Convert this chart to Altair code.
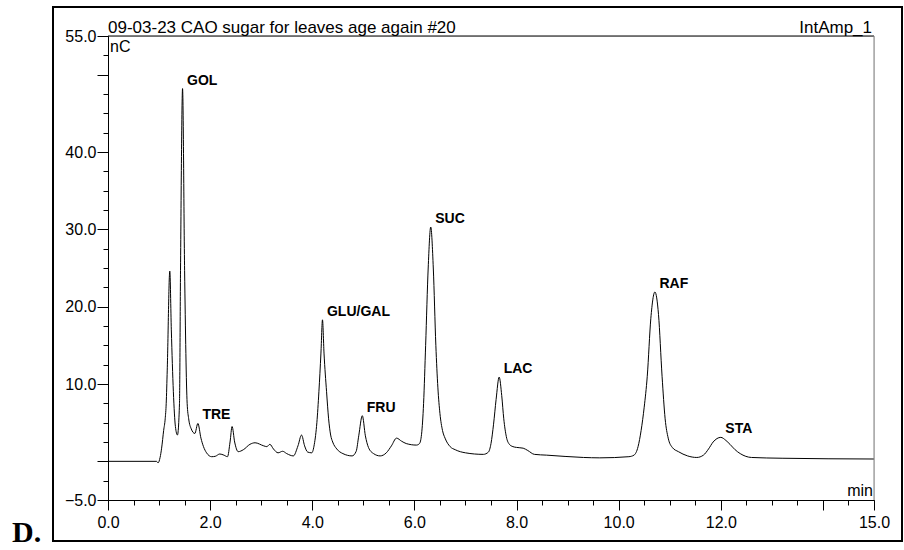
import altair as alt
import pandas as pd

# ---- data (time in min, signal in nC) ----
time = [0.00, 0.95, 0.98, 1.02, 1.05, 1.09, 1.12, 1.14, 1.16, 1.21, 1.24, 1.28, 1.32, 1.36,
        1.40, 1.42, 1.46, 1.50, 1.55, 1.58, 1.63, 1.70, 1.76, 1.82, 1.87, 1.93,
        2.03, 2.10, 2.19, 2.27, 2.34, 2.39, 2.43, 2.48, 2.55, 2.65, 2.78, 2.88, 3.05, 3.11,
        3.17, 3.24, 3.33, 3.42, 3.50, 3.63, 3.72, 3.79, 3.85, 3.91, 3.99,
        4.04, 4.09, 4.13, 4.17, 4.20, 4.23, 4.28, 4.32, 4.36, 4.40, 4.48, 4.60, 4.78,
        4.86, 4.91, 4.98, 5.04, 5.10, 5.20, 5.33, 5.45, 5.55, 5.65, 5.75, 5.84, 6.04,
        6.10, 6.14, 6.18, 6.22, 6.27, 6.32, 6.37, 6.42, 6.46, 6.50, 6.55, 6.60, 6.70, 6.80,
        7.00, 7.35, 7.45, 7.50, 7.55, 7.60, 7.66, 7.71, 7.75, 7.80, 7.86, 7.93, 8.00, 8.13,
        8.22, 8.35, 8.59, 9.31, 9.63, 10.20, 10.30, 10.38, 10.44, 10.50, 10.56, 10.63,
        10.71, 10.78, 10.85, 10.91, 10.97, 11.05, 11.17, 11.35, 11.53, 11.66, 11.76,
        11.85, 12.00, 12.10, 12.18, 12.28, 12.38, 12.60, 13.20, 15.00]
signal = [0.0, 0.0, -0.2, 0.5, 1.7, 4.0, 5.5, 7.5, 11.8, 24.6, 17.0, 9.0, 4.5, 3.4,
          7.5, 24.7, 48.2, 24.7, 7.5, 5.5, 4.2, 3.6, 4.9, 3.0, 1.9, 1.1,
          0.6, 0.65, 0.95, 0.8, 0.6, 2.5, 4.5, 2.5, 1.25, 1.5, 2.2, 2.4, 2.0, 1.9,
          2.2, 1.6, 1.1, 1.3, 1.0, 0.7, 2.0, 3.4, 2.0, 1.2, 1.1,
          2.2, 5.0, 9.0, 14.0, 18.3, 14.0, 9.0, 5.5, 3.4, 2.5, 1.6, 1.0, 0.7,
          1.3, 3.3, 5.9, 3.3, 1.8, 1.0, 0.7, 1.1, 2.0, 3.0, 2.6, 2.3, 2.1,
          2.3, 3.5, 7.5, 15.0, 25.0, 30.3, 25.0, 15.0, 9.5, 6.2, 4.0, 3.0, 1.9, 1.5,
          1.1, 0.9, 1.2, 2.3, 4.8, 8.0, 10.9, 8.5, 5.5, 3.2, 2.2, 1.9, 1.8, 1.7,
          1.4, 0.9, 0.8, 0.5, 0.45, 0.6, 0.8, 1.9, 4.0, 7.0, 11.0, 18.5,
          21.9, 19.0, 11.0, 5.5, 3.0, 1.8, 1.25, 0.7, 0.5, 0.8, 1.6,
          2.5, 3.1, 2.7, 2.2, 1.5, 1.0, 0.5, 0.4, 0.3]

peak_names = ["GOL", "TRE", "GLU/GAL", "FRU", "SUC", "LAC", "RAF", "STA"]
peak_times = [1.46, 1.76, 4.20, 4.98, 6.32, 7.66, 10.71, 12.00]
peak_heights = [48.2, 4.9, 18.3, 5.9, 30.3, 10.9, 21.9, 3.1]

x_minor = [i * 0.5 for i in range(31)]
x_major = [0, 2, 4, 6, 8, 10, 12, 14, 15]
x_labels = [0, 2, 4, 6, 8, 10, 12, 15]
y_minor = [-5 + i * 2.5 for i in range(25)]
y_major = [-5, 0, 10, 20, 30, 40, 50, 55]
y_labels = [-5, 10, 20, 30, 40, 55]

title_text = "09-03-23 CAO sugar for leaves age again #20"
right_title = "IntAmp_1"
y_unit = "nC"
x_unit = "min"
panel_tag = "D."

trace_df = pd.DataFrame({"time": time, "signal": signal})
peaks_df = pd.DataFrame({"name": peak_names, "time": peak_times, "height": peak_heights})
one = pd.DataFrame({"a": [0]})

W, H = 766, 464
FONT = "Liberation Sans"

xs = alt.Scale(domain=[0, 15], nice=False, zero=False)
ys = alt.Scale(domain=[-5, 55], nice=False, zero=False)

x_minor_axis = alt.Axis(orient="bottom", values=x_minor, tickSize=5, labels=False, title=None,
                        grid=False, domainColor="black", tickColor="black", domainWidth=1)
y_minor_axis = alt.Axis(orient="left", values=y_minor, tickSize=5, labels=False, title=None,
                        grid=False, domainColor="black", tickColor="black", domainWidth=1)

x_lab_expr = "indexof(%s, datum.value) >= 0 ? format(datum.value, '.1f') : ''" % str(x_labels)
y_lab_expr = "indexof(%s, datum.value) >= 0 ? format(datum.value, '.1f') : ''" % str(y_labels)

x_major_axis = alt.Axis(orient="bottom", values=x_major, tickSize=10, labelExpr=x_lab_expr,
                        labelFont=FONT, labelFontSize=16, labelColor="black", labelPadding=4,
                        labelOverlap=False, labelFlush=False, title=None, grid=False,
                        domain=False, tickColor="black")
y_major_axis = alt.Axis(orient="left", values=y_major, tickSize=11, labelExpr=y_lab_expr,
                        labelFont=FONT, labelFontSize=16, labelColor="black", labelPadding=1,
                        labelOverlap=False, labelFlush=False, title=None, grid=False,
                        domain=False, tickColor="black")

trace = alt.Chart(trace_df).mark_line(
    interpolate="monotone", color="black", strokeWidth=1
).encode(
    x=alt.X("time:Q", scale=xs, axis=x_minor_axis),
    y=alt.Y("signal:Q", scale=ys, axis=y_minor_axis),
)

labels = alt.Chart(peaks_df).mark_text(
    align="left", baseline="alphabetic", dx=4.5, dy=-4,
    font=FONT, fontWeight="bold", fontSize=14, color="black"
).encode(
    x=alt.X("time:Q", scale=xs, axis=x_major_axis),
    y=alt.Y("height:Q", scale=ys, axis=y_major_axis),
    text="name:N",
)

top_line = alt.Chart(one).mark_rule(color="black", strokeWidth=1).encode(
    x=alt.value(0), x2=alt.value(W), y=alt.value(0)
)
right_line = alt.Chart(one).mark_rule(color="#808080", strokeWidth=1).encode(
    x=alt.value(W), y=alt.value(0), y2=alt.value(H)
)
border = alt.Chart(one).mark_rect(fill=None, stroke="black", strokeWidth=2).encode(
    x=alt.value(-55), x2=alt.value(794), y=alt.value(-29), y2=alt.value(505)
)

def txt(s, x, y, align="left", font=FONT, size=17, weight="normal"):
    return alt.Chart(one).mark_text(
        text=s, align=align, baseline="alphabetic", font=font, fontSize=size,
        fontWeight=weight, color="black"
    ).encode(x=alt.value(x), y=alt.value(y))

t_title = txt(title_text, 0, -3)
t_right = txt(right_title, 764, -3, align="right")
t_nc = txt(y_unit, 2, 16, size=16)
t_min = txt(x_unit, 765, 460, align="right", size=16)
t_tag = txt(panel_tag, -96, 506, font="Liberation Serif", size=30, weight="bold")

chart = alt.layer(
    trace, labels, top_line, right_line, border, t_title, t_right, t_nc, t_min, t_tag
).resolve_axis(
    x="independent", y="independent"
).properties(
    width=W, height=H,
    autosize=alt.AutoSizeParams(type="none"),
    padding={"left": 108, "top": 36, "right": 30, "bottom": 50},
).configure_view(stroke=None).configure(background="white")

chart.save("out.html", embed_options={"renderer": "svg", "actions": False})
